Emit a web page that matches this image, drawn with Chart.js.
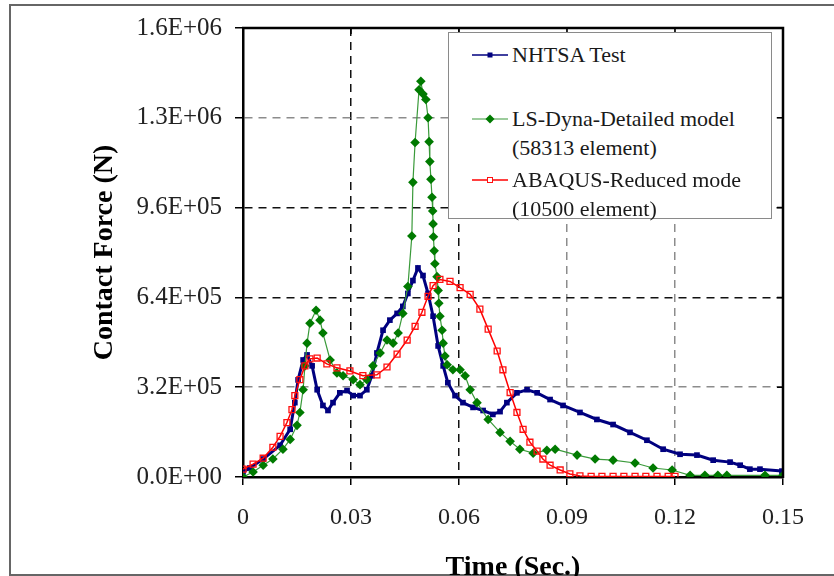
<!DOCTYPE html>
<html>
<head>
<meta charset="utf-8">
<title>Contact Force vs Time</title>
<script src="https://cdn.jsdelivr.net/npm/chart.js@4.4.1/dist/chart.umd.min.js"></script>
<style>
  body { margin: 0; background: #fff; }
  #wrap { position: relative; width: 834px; height: 576px; overflow: hidden; }
  #frame { position: absolute; left: 9px; top: 4px; width: 840px; height: 568px; border: 2px solid #666; }
  #myChart { position: absolute; left: 0; top: 0; }
  #legend {
    position: absolute; left: 448px; top: 32px; width: 322px; height: 185px;
    border: 1.5px solid #8a8a8a; background: #fff;
    font-family: "Liberation Serif", serif; font-size: 22px; color: #1a1a1a;
  }
  #legend .item { position: absolute; left: 0; width: 100%; }
  #legend svg { position: absolute; left: 22px; top: 8px; }
  #legend .text { position: absolute; left: 63px; top: 0; line-height: 29px; white-space: nowrap; }
</style>
</head>
<body>
<div id="wrap">
  <div id="frame"></div>
  <canvas id="myChart" width="834" height="576"></canvas>
  <div id="legend"></div>
</div>
<script>
// data: time in s, force in N
var nhtsaTime = [0, 0.0019, 0.0056, 0.0103, 0.0131, 0.0144, 0.0153, 0.0167, 0.0178, 0.0192,
  0.0206, 0.0222, 0.0236, 0.0250, 0.0269, 0.0289, 0.0306, 0.0325, 0.0344, 0.0358,
  0.0372, 0.0389, 0.0408, 0.0428, 0.0444, 0.0458, 0.0472, 0.0486, 0.0500, 0.0514,
  0.0528, 0.0542, 0.0556, 0.0569, 0.0589, 0.0611, 0.0639, 0.0667, 0.0694, 0.0714,
  0.0733, 0.0761, 0.0789, 0.0817, 0.0853, 0.0889, 0.0936, 0.0983, 0.1028, 0.1075,
  0.1122, 0.1167, 0.1214, 0.1261, 0.1306, 0.1353, 0.1381, 0.1408, 0.1436, 0.1497];
var nhtsaForce = [18000, 32000, 64000, 113000, 170000, 265000, 346000, 417000, 435000, 396000,
  311000, 255000, 237000, 265000, 300000, 308000, 290000, 290000, 311000, 361000,
  442000, 523000, 559000, 583000, 608000, 654000, 700000, 745000, 718000, 654000,
  573000, 467000, 396000, 336000, 290000, 265000, 248000, 237000, 223000, 233000,
  265000, 300000, 311000, 300000, 276000, 255000, 230000, 205000, 187000, 159000,
  131000, 99000, 81000, 78000, 60000, 53000, 42000, 28000, 28000, 21000];

var dynaTime = [0, 0.0028, 0.0056, 0.0083, 0.0111, 0.0131, 0.0150, 0.0158, 0.0167, 0.0172,
  0.0178, 0.0186, 0.0203, 0.0214, 0.0222, 0.0242, 0.0261, 0.0278, 0.0306, 0.0325,
  0.0344, 0.0361, 0.0381, 0.0400, 0.0417, 0.0431, 0.0444, 0.0458, 0.0469, 0.0472,
  0.0478, 0.0489, 0.0494, 0.0500, 0.0508, 0.0514, 0.0517, 0.0519, 0.0522, 0.0525,
  0.0527, 0.0528, 0.0529, 0.0531, 0.0533, 0.0539, 0.0542, 0.0544, 0.0547, 0.0553,
  0.0556, 0.0561, 0.0567, 0.0583, 0.0603, 0.0617, 0.0631, 0.0650, 0.0681, 0.0714,
  0.0742, 0.0769, 0.0806, 0.0844, 0.0867, 0.0928, 0.0978, 0.1028, 0.1089, 0.1139,
  0.1192, 0.1242, 0.1283, 0.1319, 0.1344, 0.1450, 0.1500];
var dynaForce = [0, 18000, 42000, 64000, 99000, 134000, 184000, 230000, 311000, 396000,
  477000, 548000, 594000, 559000, 513000, 417000, 371000, 361000, 347000, 329000,
  347000, 396000, 442000, 488000, 477000, 513000, 583000, 679000, 859000, 1050000,
  1192000, 1380000, 1410000, 1365000, 1345000, 1280000, 1195000, 1124000, 1061000, 997000,
  948000, 902000, 856000, 806000, 760000, 714000, 665000, 619000, 573000, 523000,
  477000, 431000, 400000, 382000, 382000, 361000, 311000, 265000, 205000, 159000,
  127000, 99000, 85000, 95000, 99000, 78000, 64000, 60000, 50000, 32000,
  25000, 6000, 6000, 6000, 6000, 6000, 6000];

var abaqusTime = [0, 0.0028, 0.0056, 0.0083, 0.0103, 0.0122, 0.0136, 0.0144, 0.0158, 0.0172,
  0.0186, 0.0206, 0.0233, 0.0261, 0.0297, 0.0333, 0.0372, 0.0400, 0.0428, 0.0456,
  0.0478, 0.0497, 0.0514, 0.0528, 0.0547, 0.0575, 0.0603, 0.0631, 0.0658, 0.0681,
  0.0706, 0.0722, 0.0742, 0.0761, 0.0778, 0.0797, 0.0817, 0.0833, 0.0853, 0.0881,
  0.0908, 0.0936, 0.0967, 0.0997, 0.1028, 0.1058, 0.1089, 0.1119, 0.1150, 0.1181, 0.1200];
var abaqusForce = [28000, 46000, 67000, 106000, 145000, 194000, 240000, 290000, 347000, 396000,
  421000, 424000, 403000, 389000, 378000, 361000, 364000, 392000, 438000, 488000,
  537000, 587000, 644000, 682000, 704000, 697000, 675000, 651000, 598000, 527000,
  449000, 382000, 301000, 230000, 170000, 124000, 92000, 64000, 42000, 25000,
  11000, 4000, 2000, 2000, 2000, 2000, 2000, 2000, 2000, 2000, 2000];

var seriesNames = [
  ["NHTSA Test"],
  ["LS-Dyna-Detailed model", "(58313 element)"],
  ["ABAQUS-Reduced mode", "(10500 element)"]
];

var xTicks = [0, 0.03, 0.06, 0.09, 0.12, 0.15];
var xTickLabels = ["0", "0.03", "0.06", "0.09", "0.12", "0.15"];
var yTicks = [0, 320000, 640000, 960000, 1280000, 1600000];
var yTickLabels = ["0.0E+00", "3.2E+05", "6.4E+05", "9.6E+05", "1.3E+06", "1.6E+06"];


function toPoints(times, forces) {
  var pts = [];
  for (let i = 0; i < times.length; i++) {
    pts.push({ x: times[i], y: forces[i] });
  }
  return pts;
}

// top and right sides of the plot box, with the small inward ticks
const plotFrame = {
  id: 'plotFrame',
  afterDraw(chart) {
    const ctx = chart.ctx;
    const a = chart.chartArea;
    const x = chart.scales.x, y = chart.scales.y;
    ctx.save();
    ctx.strokeStyle = '#000';
    ctx.lineWidth = 2.5;
    ctx.beginPath();
    ctx.moveTo(a.left - 1, a.top);
    ctx.lineTo(a.right, a.top);
    ctx.lineTo(a.right, a.bottom + 1);
    ctx.stroke();
    ctx.lineWidth = 1.5;
    ctx.beginPath();
    x.ticks.forEach(t => {
      const px = x.getPixelForValue(t.value);
      ctx.moveTo(px, a.top);
      ctx.lineTo(px, a.top + 6);
    });
    y.ticks.forEach(t => {
      const py = y.getPixelForValue(t.value);
      ctx.moveTo(a.right, py);
      ctx.lineTo(a.right - 6, py);
    });
    ctx.stroke();
    ctx.restore();
  }
};

const serif = "'Liberation Serif', 'Times New Roman', serif";

const datasets = [
  {
    label: seriesNames[0].join(' '),
    data: toPoints(nhtsaTime, nhtsaForce),
    showLine: true,
    borderColor: '#00007f',
    borderWidth: 3,
    pointStyle: 'rect',
    pointRadius: 4,
    pointBorderWidth: 0,
    pointBackgroundColor: '#00007f',
    order: 3
  },
  {
    label: seriesNames[1].join(' '),
    data: toPoints(dynaTime, dynaForce),
    showLine: true,
    borderColor: '#3a9a3a',
    borderWidth: 1.2,
    pointStyle: 'rectRot',
    pointRadius: 4.8,
    pointBorderWidth: 0,
    pointBackgroundColor: '#007a00',
    order: 2
  },
  {
    label: seriesNames[2].join(' '),
    data: toPoints(abaqusTime, abaqusForce),
    showLine: true,
    borderColor: '#ff0000',
    borderWidth: 1.5,
    pointStyle: 'rect',
    pointRadius: 4.2,
    pointBorderWidth: 1.3,
    pointBorderColor: '#ff1010',
    pointBackgroundColor: 'rgba(255,255,255,0)',
    order: 1
  }
];

const ctx = document.getElementById('myChart').getContext('2d');

const myChart = new Chart(ctx, {
  type: 'scatter',
  data: { datasets: datasets },
  plugins: [plotFrame],
  options: {
    responsive: false,
    animation: false,
    devicePixelRatio: 1,
    layout: { padding: { top: 22, right: 51, left: 0, bottom: 0 } },
    elements: { line: { tension: 0 } },
    plugins: {
      legend: { display: false },
      tooltip: { enabled: false }
    },
    scales: {
      x: {
        type: 'linear',
        min: 0,
        max: 0.15,
        afterBuildTicks: scale => { scale.ticks = xTicks.map(v => ({ value: v })); },
        afterFit: scale => { scale.height = 99; },
        ticks: {
          padding: 18,
          color: '#222',
          font: { family: serif, size: 24 },
          callback: (value, index) => xTickLabels[index]
        },
        grid: {
          color: c => (c.index === 1 || c.index === 2) ? '#111' : '#8c8c8c',
          lineWidth: 1.5,
          tickLength: 8,
          tickColor: '#000',
          tickWidth: 1.5,
          tickBorderDash: []
        },
        border: { color: '#000', width: 2.5, dash: [8, 6] },
        title: {
          display: true,
          text: 'Time (Sec.)',
          color: '#000',
          font: { family: serif, size: 28, weight: 'bold' },
          padding: { top: 0, bottom: -9 }
        }
      },
      y: {
        type: 'linear',
        min: 0,
        max: 1600000,
        afterBuildTicks: scale => { scale.ticks = yTicks.map(v => ({ value: v })); },
        afterFit: scale => { scale.width = 243; },
        ticks: {
          padding: 13,
          color: '#222',
          font: { family: serif, size: 25 },
          callback: (value, index) => yTickLabels[index]
        },
        grid: {
          color: c => (c.index === 2 || c.index === 3) ? '#111' : '#8c8c8c',
          lineWidth: 1.5,
          tickLength: 8,
          tickColor: '#000',
          tickWidth: 1.5,
          tickBorderDash: []
        },
        border: { color: '#000', width: 2.5, dash: [8, 6] },
        title: {
          display: true,
          text: 'Contact Force (N)',
          color: '#000',
          font: { family: serif, size: 28, weight: 'bold' },
          padding: { top: 88, bottom: 0 }
        }
      }
    }
  }
});

// legend box drawn as html, built from the datasets
function buildLegend() {
  var box = document.getElementById('legend');
  var centers = [21, 85, 146];
  datasets.forEach((ds, i) => {
    var item = document.createElement('div');
    item.className = 'item';
    item.style.top = (centers[i] - 14.5) + 'px';
    var svgNS = 'http://www.w3.org/2000/svg';
    var svg = document.createElementNS(svgNS, 'svg');
    svg.setAttribute('width', '38');
    svg.setAttribute('height', '14');
    var line = document.createElementNS(svgNS, 'line');
    line.setAttribute('x1', '1'); line.setAttribute('x2', '37');
    line.setAttribute('y1', '7'); line.setAttribute('y2', '7');
    line.setAttribute('stroke', ds.borderColor);
    line.setAttribute('stroke-width', Math.min(ds.borderWidth, 1.5));
    svg.appendChild(line);
    var mark;
    if (ds.pointStyle === 'rectRot') {
      mark = document.createElementNS(svgNS, 'polygon');
      mark.setAttribute('points', '19,2.5 23.5,7 19,11.5 14.5,7');
      mark.setAttribute('fill', ds.pointBackgroundColor);
    } else {
      mark = document.createElementNS(svgNS, 'rect');
      mark.setAttribute('x', '16.5'); mark.setAttribute('y', '4.5');
      mark.setAttribute('width', '5'); mark.setAttribute('height', '5');
      mark.setAttribute('fill', ds.pointBorderWidth ? '#fff' : ds.pointBackgroundColor);
      if (ds.pointBorderWidth) {
        mark.setAttribute('stroke', ds.pointBorderColor);
        mark.setAttribute('stroke-width', '1');
      }
    }
    svg.appendChild(mark);
    item.appendChild(svg);
    var text = document.createElement('div');
    text.className = 'text';
    text.innerHTML = seriesNames[i].join('<br>');
    item.appendChild(text);
    box.appendChild(item);
  });
}
buildLegend();
</script>
</body>
</html>
